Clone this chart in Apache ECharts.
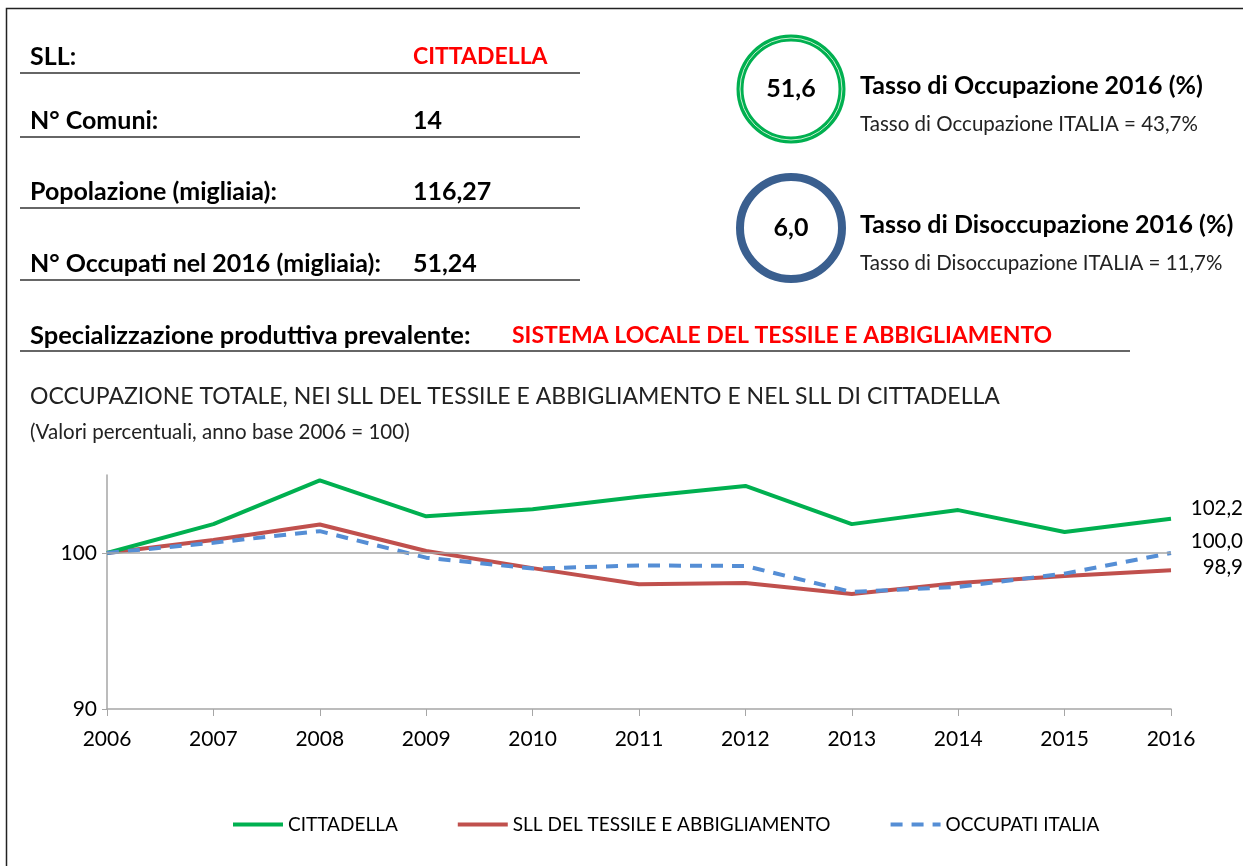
<!DOCTYPE html>
<html>
<head>
<meta charset="utf-8">
<script src="https://cdn.jsdelivr.net/npm/echarts@6/dist/echarts.min.js"></script>
<style>
  html, body { margin:0; padding:0; background:#fff; }
  #container { width:1243px; height:866px; }
</style>
</head>
<body>
<div id="container"></div>
<script>
// dati
var anni = ['2006','2007','2008','2009','2010','2011','2012','2013','2014','2015','2016'];
var cittadella = [100, 101.85, 104.65, 102.35, 102.8, 103.6, 104.3, 101.85, 102.75, 101.35, 102.2];
var sllTessile = [100, 100.83, 101.83, 100.13, 99.03, 98.0, 98.07, 97.37, 98.07, 98.53, 98.9];
var occupatiItalia = [100, 100.66, 101.4, 99.7, 99.0, 99.2, 99.17, 97.5, 97.83, 98.68, 100.0];
var yTicks = [90, 100];

var infoRighe = [
    ['SLL:', 'CITTADELLA'],
    ['N° Comuni:', '14'],
    ['Popolazione (migliaia):', '116,27'],
    ['N° Occupati nel 2016 (migliaia):', '51,24']
];
var tassi = [
    ['51,6', 'Tasso di Occupazione 2016 (%)', 'Tasso di Occupazione ITALIA = 43,7%'],
    ['6,0', 'Tasso di Disoccupazione 2016 (%)', 'Tasso di Disoccupazione ITALIA = 11,7%']
];

var FONT = 'Lato, "Open Sans", sans-serif';

function fmt(v){
    return v.toFixed(1).replace('.', ',');
}

var graphic = [];
// cornice
graphic.push({type:'rect', shape:{x:6.5, y:8.5, width:1400, height:1000}, style:{fill:'none', stroke:'#222', lineWidth:1.5}, silent:true});

// righe informative
var righeY = [57, 121, 192, 264];
for (var i=0;i<infoRighe.length;i++){
    graphic.push({type:'text', x:30, y:righeY[i], style:{text:infoRighe[i][0], font:'bold 25px '+FONT, fill:'#000', verticalAlign:'middle'}});
    graphic.push({type:'text', x:413, y:righeY[i], style:{text:infoRighe[i][1], font:'bold '+(i==0?23:25)+'px '+FONT, fill:(i==0?'#ff0000':'#000'), verticalAlign:'middle'}});
    graphic.push({type:'line', shape:{x1:20, y1:righeY[i]+16, x2:580, y2:righeY[i]+16}, style:{stroke:'#333', lineWidth:1.5}});
}
graphic.push({type:'text', x:30, y:336, style:{text:'Specializzazione produttiva prevalente:', font:'bold 25.5px '+FONT, fill:'#000', verticalAlign:'middle'}});
graphic.push({type:'text', x:512, y:336, style:{text:'SISTEMA LOCALE DEL TESSILE E ABBIGLIAMENTO', font:'bold 23px '+FONT, fill:'#ff0000', verticalAlign:'middle'}});
graphic.push({type:'line', shape:{x1:20, y1:351, x2:1130, y2:351}, style:{stroke:'#333', lineWidth:1.5}});

// cerchi
var cerchiY = [89, 228];
graphic.push({type:'circle', shape:{cx:791, cy:cerchiY[0], r:51}, style:{fill:'none', stroke:'#00b050', lineWidth:7}});
graphic.push({type:'circle', shape:{cx:791, cy:cerchiY[0], r:51}, style:{fill:'none', stroke:'#c6efce', lineWidth:1}});
graphic.push({type:'circle', shape:{cx:791, cy:cerchiY[1], r:51}, style:{fill:'none', stroke:'#3a5f8f', lineWidth:8}});
for (var j=0;j<tassi.length;j++){
    graphic.push({type:'text', x:791, y:cerchiY[j], style:{text:tassi[j][0], font:'bold 25px '+FONT, fill:'#000', align:'center', verticalAlign:'middle'}});
    graphic.push({type:'text', x:860, y:cerchiY[j]-3, style:{text:tassi[j][1], font:'bold 25px '+FONT, fill:'#000', verticalAlign:'middle'}});
    graphic.push({type:'text', x:860, y:cerchiY[j]+35, style:{text:tassi[j][2], font:'20.5px '+FONT, fill:'#222', verticalAlign:'middle'}});
}

// titolo grafico
graphic.push({type:'text', x:30, y:397, style:{text:'OCCUPAZIONE TOTALE, NEI SLL DEL TESSILE E ABBIGLIAMENTO E NEL SLL DI CITTADELLA', font:'23px '+FONT, fill:'#222', verticalAlign:'middle'}});
graphic.push({type:'text', x:30, y:432, style:{text:'(Valori percentuali, anno base 2006 = 100)', font:'20.5px '+FONT, fill:'#222', verticalAlign:'middle'}});

var myChart = echarts.init(document.getElementById('container'));

var option = {
    animation: false,
    graphic: graphic,
    grid: {left:107, right:72, top:475, bottom:157, containLabel:false},
    legend: {
        show: true,
        left: 226, top: 810,
        itemWidth: 50, itemHeight: 12, itemGap: 58,
        itemStyle: {opacity: 0},
        lineStyle: {width: 4},
        textStyle: {fontFamily: FONT, fontSize: 19, color: '#000'},
        data: ['CITTADELLA', 'SLL DEL TESSILE E ABBIGLIAMENTO', 'OCCUPATI ITALIA']
    },
    xAxis: {
        type: 'category',
        data: anni,
        boundaryGap: false,
        axisLine: {lineStyle:{color:'#a6a6a6', width:1.5}},
        axisTick: {show:true, length:7, alignWithLabel:true, lineStyle:{color:'#a6a6a6'}},
        axisLabel: {color:'#000', fontFamily:FONT, fontSize:21, margin:20}
    },
    yAxis: {
        type: 'value',
        min: 90, max: 105, interval: 10,
        axisLine: {show:true, lineStyle:{color:'#a6a6a6', width:1.5}},
        axisTick: {show:true, length:5, lineStyle:{color:'#a6a6a6'}},
        splitLine: {show:false},
        axisLabel: {
            color:'#000', fontFamily:FONT, fontSize:21, margin:10, showMaxLabel:false,
            formatter: function(v){ return yTicks.indexOf(v) >= 0 ? String(v) : ''; }
        }
    },
    series: [
        {
            name: 'CITTADELLA', type: 'line', data: cittadella,
            symbol: 'none', lineStyle: {color:'#00b050', width:4}, itemStyle:{color:'#00b050'},
            endLabel: {show:true, align:'right', offset:[64,-10], color:'#000', fontFamily:FONT, fontSize:20.5,
                formatter: function(p){ return fmt(p.value); }},
            markLine: {
                silent: true, symbol: 'none', label:{show:false},
                lineStyle: {color:'#a6a6a6', width:1.5, type:'solid'},
                data: [{yAxis: yTicks[1]}]
            },
            z: 3
        },
        {
            name: 'SLL DEL TESSILE E ABBIGLIAMENTO', type: 'line', data: sllTessile,
            symbol: 'none', lineStyle: {color:'#c0504d', width:4}, itemStyle:{color:'#c0504d'},
            endLabel: {show:true, align:'right', offset:[64,-3], color:'#000', fontFamily:FONT, fontSize:20.5,
                formatter: function(p){ return fmt(p.value); }},
            z: 2
        },
        {
            name: 'OCCUPATI ITALIA', type: 'line', data: occupatiItalia,
            symbol: 'none', lineStyle: {color:'#558ed5', width:4, type:[12,9]}, itemStyle:{color:'#558ed5'},
            endLabel: {show:true, align:'right', offset:[64,-12], color:'#000', fontFamily:FONT, fontSize:20.5,
                formatter: function(p){ return fmt(p.value); }},
            z: 4
        }
    ]
};

myChart.setOption(option);
</script>
</body>
</html>
